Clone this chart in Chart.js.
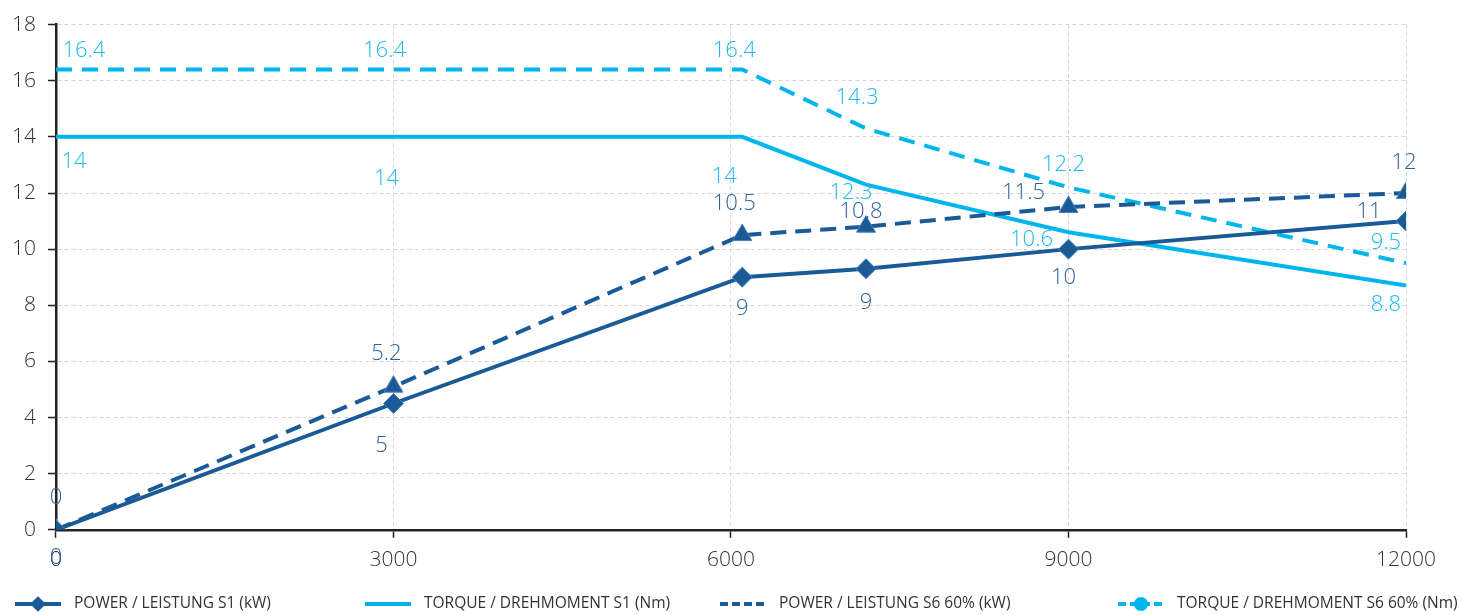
<!DOCTYPE html>
<html>
<head>
<meta charset="utf-8">
<script src="https://cdn.jsdelivr.net/npm/chart.js@4.4.1/dist/chart.umd.min.js"></script>
<style>
  html, body { margin: 0; padding: 0; background: #fff; }
  #wrap { width: 1461px; height: 615px; position: relative; }
</style>
</head>
<body>
<div id="wrap"><canvas id="chart"></canvas></div>
<script>
// speed (rpm) positions of the points
const speeds = [0, 3000, 6100, 7200, 9000, 12000];

const powerS1 = [0, 4.5, 9, 9.3, 10, 11];
const powerS1Labels = ['0', '5', '9', '9', '10', '11'];

const torqueS1 = [14, 14, 14, 12.3, 10.6, 8.7];
const torqueS1Labels = ['14', '14', '14', '12.3', '10.6', '8.8'];

const powerS6 = [0, 5.1, 10.5, 10.8, 11.5, 12];
const powerS6Labels = ['0', '5.2', '10.5', '10.8', '11.5', '12'];

const torqueS6 = [16.4, 16.4, 16.4, 14.3, 12.2, 9.5];
const torqueS6Labels = ['16.4', '16.4', '16.4', '14.3', '12.2', '9.5'];

const seriesNames = [
    'POWER / LEISTUNG S1 (kW)',
    'TORQUE / DREHMOMENT S1 (Nm)',
    'POWER / LEISTUNG S6 60% (kW)',
    'TORQUE / DREHMOMENT S6 60% (Nm)'
];

const xTicks = [0, 3000, 6000, 9000, 12000];
const yMin = 0, yMax = 18, yStep = 2;

const DARK = '#1a5a96';
const LIGHT = '#00b5ec';
const FONT = '"Open Sans", "DejaVu Sans", sans-serif';

function toPoints(values) {
    return values.map((v, i) => ({ x: speeds[i], y: v }));
}

// draws the value labels next to each point (offsets in px from the point)
const pointLabels = {
    id: 'pointLabels',
    afterDatasetsDraw(chart) {
        const ctx = chart.ctx;
        ctx.save();
        ctx.font = '300 22px ' + FONT;
        ctx.textBaseline = 'middle';
        ctx.textAlign = 'center';
        chart.data.datasets.forEach((ds, di) => {
            const meta = chart.getDatasetMeta(di);
            const lab = ds.valueLabels;
            meta.data.forEach((el, i) => {
                const off = lab.offsets[i];
                ctx.fillStyle = lab.color;
                ctx.fillText(lab.text[i], el.x + off[0], el.y + off[1]);
            });
        });
        ctx.restore();
    }
};

// legend with line samples along the bottom
const legendStarts = [15, 365, 720, 1118];
const bottomLegend = {
    id: 'bottomLegend',
    afterDraw(chart) {
        const ctx = chart.ctx;
        ctx.save();
        ctx.font = '15.5px ' + FONT;
        ctx.textBaseline = 'middle';
        const sample = 46, gapText = 13;
        const y = 604;
        chart.data.datasets.forEach((d, i) => {
            const x = legendStarts[i];
            ctx.strokeStyle = d.borderColor;
            ctx.lineWidth = d.borderWidth;
            ctx.setLineDash(d.borderDash ? [8, 4] : []);
            ctx.beginPath();
            ctx.moveTo(x, y);
            ctx.lineTo(x + sample, y);
            ctx.stroke();
            ctx.setLineDash([]);
            if (d.legendMarker) {
                Chart.helpers.drawPoint(ctx, {
                    pointStyle: d.legendMarker,
                    radius: 5,
                    borderWidth: 1,
                    rotation: 0
                }, x + sample / 2, y);
                ctx.fillStyle = d.borderColor;
                ctx.fill();
            }
            ctx.fillStyle = '#333';
            ctx.textAlign = 'left';
            ctx.fillText(d.label, x + sample + gapText, y);
        });
        ctx.restore();
    }
};

const tickFont = { family: FONT, size: 21, weight: 300 };
const gridOpts = { color: '#d6d6d6', lineWidth: 1, tickLength: 8, tickColor: '#222', tickWidth: 1.5, tickBorderDash: [] };
const borderOpts = { color: '#222', width: 2.5, dash: [4, 3] };

new Chart(document.getElementById('chart'), {
    type: 'line',
    data: {
        datasets: [
            {
                label: seriesNames[0],
                data: toPoints(powerS1),
                borderColor: DARK,
                borderWidth: 4,
                pointStyle: 'rectRot',
                pointRadius: 10,
                pointBackgroundColor: DARK,
                pointBorderColor: '#4b80b8',
                pointBorderWidth: 1,
                legendMarker: 'rectRot',
                valueLabels: {
                    text: powerS1Labels, color: '#2d629c',
                    offsets: [[0, 28], [-12, 42], [0, 32], [0, 34], [-5, 29], [-37, -9]]
                },
                order: 1
            },
            {
                label: seriesNames[1],
                data: toPoints(torqueS1),
                borderColor: LIGHT,
                borderWidth: 4,
                pointRadius: 0,
                valueLabels: {
                    text: torqueS1Labels, color: '#1cbaf0',
                    offsets: [[18, 25], [-7, 42], [-18, 40], [-15, 8], [-37, 7], [-20, 19]]
                },
                order: 4
            },
            {
                label: seriesNames[2],
                data: toPoints(powerS6),
                borderColor: DARK,
                borderWidth: 4,
                borderDash: [16, 9],
                pointStyle: 'triangle',
                pointRadius: 11,
                pointBackgroundColor: DARK,
                pointBorderColor: '#4b80b8',
                pointBorderWidth: 1,
                valueLabels: {
                    text: powerS6Labels, color: '#2d629c',
                    offsets: [[0, -32], [-7, -33], [-8, -31], [-5, -15], [-45, -14], [-2, -30]]
                },
                order: 2
            },
            {
                label: seriesNames[3],
                data: toPoints(torqueS6),
                borderColor: LIGHT,
                borderWidth: 4,
                borderDash: [16, 10],
                pointRadius: 0,
                legendMarker: 'circle',
                valueLabels: {
                    text: torqueS6Labels, color: '#1cbaf0',
                    offsets: [[28, -19], [-9, -19], [-8, -19], [-9, -31], [-5, -23], [-20, -20]]
                },
                order: 3
            }
        ]
    },
    options: {
        responsive: true,
        maintainAspectRatio: false,
        animation: false,
        layout: { padding: { top: 22, right: 55, bottom: 32, left: 0 } },
        plugins: {
            legend: { display: false },
            tooltip: { enabled: false }
        },
        scales: {
            x: {
                type: 'linear',
                min: 0,
                max: 12000,
                afterBuildTicks: axis => { axis.ticks = xTicks.map(v => ({ value: v })); },
                ticks: {
                    color: '#333', font: tickFont, padding: 10, maxRotation: 0,
                    callback: v => String(v)
                },
                grid: gridOpts,
                border: borderOpts
            },
            y: {
                min: yMin,
                max: yMax,
                ticks: { stepSize: yStep, color: '#333', font: tickFont, padding: 12 },
                grid: gridOpts,
                border: borderOpts
            }
        }
    },
    plugins: [pointLabels, bottomLegend]
});
</script>
</body>
</html>
